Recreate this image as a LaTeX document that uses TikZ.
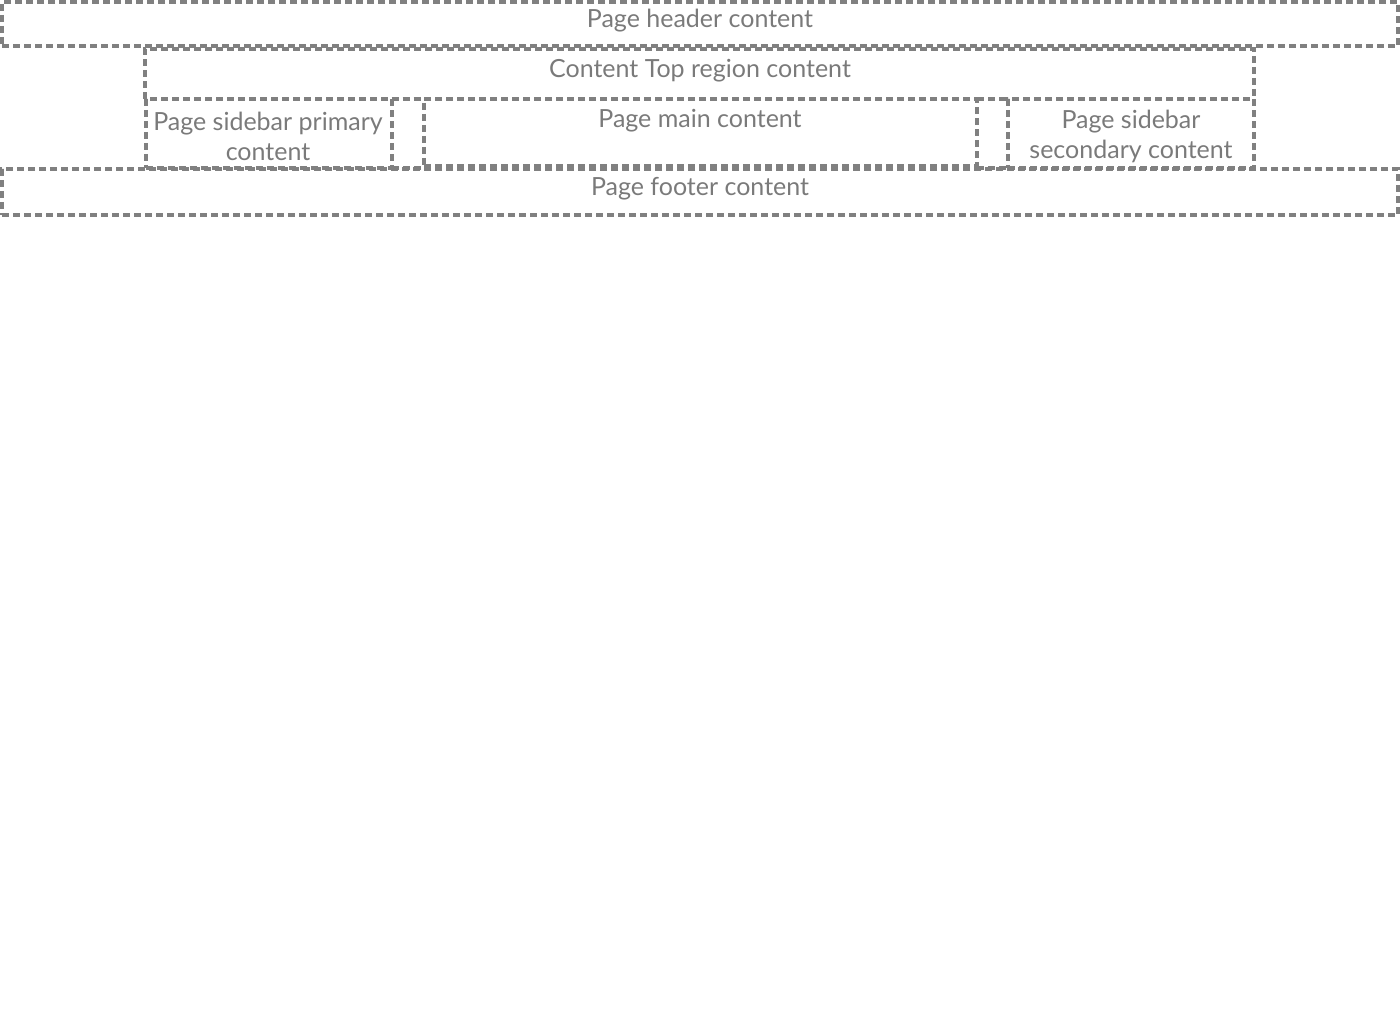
\documentclass[tikz,border=0pt]{standalone}
\usepackage{fontspec}
\setmainfont{Lato}
\definecolor{boxgray}{HTML}{808080}
\definecolor{txtgray}{HTML}{7A7A7A}
\begin{document}
\begin{tikzpicture}[x=1pt,y=-1pt,
  region/.style={draw=boxgray, line width=4pt, dash pattern=on 7pt off 4pt, inner sep=0pt, outer sep=0pt, rectangle},
  gapline/.style={draw=boxgray, line width=4pt, dash pattern=on 7pt off 4pt},
  lbl/.style={text=txtgray, font=\fontsize{25}{30}\selectfont, align=center, inner sep=0pt}]
\useasboundingbox (0,0) rectangle (1400,1024);
% boxes
\node[region, minimum width=1396pt, minimum height=44pt] (hdr) at (700,24) {};
\node[region, draw=none, minimum width=1109pt, minimum height=50pt] (top) at (699.5,74) {};
\draw[gapline] (top.south west) -- (top.north west) -- (top.north east) -- (top.south east);
\node[region, minimum width=246pt, minimum height=69pt] (sbp) at (268.5,133.5) {};
\node[region, minimum width=553pt, minimum height=67pt] (mainc) at (700.5,132.5) {};
\node[region, minimum width=246pt, minimum height=69pt] (sbs) at (1131,133.5) {};
\node[region, minimum width=1396pt, minimum height=46pt] (ftr) at (700,192) {};
% outer row box edges visible between columns
\coordinate (g1) at (sbp.south east -| mainc.west);
\coordinate (g2) at (sbs.south west -| mainc.east);
\draw[gapline] (sbp.north east) -- (mainc.north west);
\draw[gapline] (mainc.north east) -- (sbs.north west);
\draw[gapline] (sbp.south east) -- (g1);
\draw[gapline] (g2) -- (sbs.south west);
% labels
\node[lbl] (hdrt) at (700,21) {Page header content};
\node[lbl] (topt) at (700,71) {Content Top region content};
\node[lbl] (sbpt) at (268,136) {Page sidebar primary\\content};
\node[lbl] (maint) at (700,121) {Page main content};
\node[lbl] (sbst) at (1131,136) {Page sidebar\\secondary content};
\node[lbl] (ftrt) at (700,189) {Page footer content};
\end{tikzpicture}
\end{document}
